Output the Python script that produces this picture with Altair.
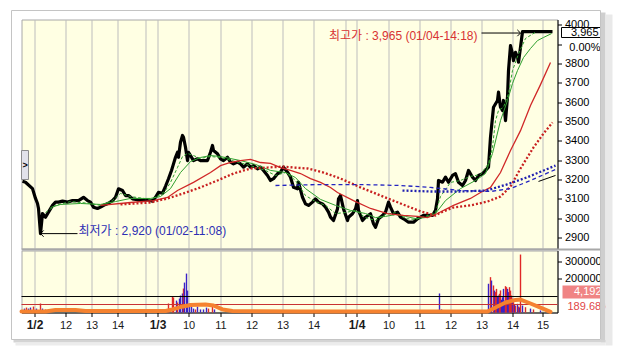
import altair as alt
import pandas as pd

FONT = "Liberation Sans, Arial, Noto Sans CJK KR, sans-serif"

# ---------------- axis definitions (intraday slots along x) ----------------
tick_pos = [13, 44, 70, 96, 124, 136, 167, 199, 230, 261, 292, 324, 335, 367, 398, 429, 460, 491, 521]
tick_labels = ["1/2", "12", "13", "14", "", "1/3", "10", "11", "12", "13", "14", "",
               "1/4", "10", "11", "12", "13", "14", "15"]
date_ticks = [13, 136, 335]

price_ticks = [2900, 3000, 3100, 3200, 3300, 3400, 3500, 3600, 3700, 3800, 3900, 4000]
volume_ticks = [200000, 300000]

# ---------------- price series ----------------
price_bar = [1, 4, 11, 14, 16, 17, 19, 21, 24, 27,
             31, 34, 37, 41, 46, 51, 57, 62, 66, 69,
             72, 76, 79, 84, 87, 91, 94, 97, 101, 104,
             107, 111, 116, 121, 126, 131, 134, 137, 141, 144,
             147, 150, 152, 154, 156, 157, 159, 161, 162, 164,
             166, 167, 169, 172, 176, 179, 182, 186, 189, 191,
             192, 196, 199, 202, 206, 209, 212, 216, 219, 222,
             226, 229, 232, 236, 239, 242, 246, 249, 252, 256,
             259, 262, 266, 269, 272, 276, 277, 281, 284, 287,
             291, 294, 297, 301, 304, 307, 309, 312, 316, 317,
             319, 322, 326, 327, 331, 334, 336, 337, 341, 344,
             349, 352, 354, 357, 361, 364, 367, 369, 372, 376,
             379, 382, 387, 392, 396, 399, 402, 406, 411, 414,
             416, 417, 421, 424, 427, 431, 434, 437, 441, 444,
             447, 451, 454, 457, 461, 464, 467, 469, 471, 472,
             476, 477, 479, 481, 482, 484, 486, 487, 489, 491,
             492, 494, 496, 497, 499, 501, 531]
price_val = [3191, 3186, 3153, 3102, 3076, 3050, 2920, 3024, 3005, 3031,
             3066, 3083, 3083, 3088, 3083, 3091, 3091, 3108, 3091, 3083,
             3057, 3050, 3057, 3071, 3077, 3091, 3108, 3152, 3143, 3117,
             3117, 3100, 3095, 3091, 3095, 3088, 3108, 3134, 3129, 3165,
             3204, 3247, 3281, 3315, 3341, 3315, 3393, 3428, 3419, 3367,
             3298, 3341, 3324, 3298, 3307, 3298, 3298, 3298, 3341, 3376,
             3350, 3333, 3307, 3298, 3315, 3290, 3281, 3290, 3281, 3264,
             3281, 3264, 3272, 3255, 3264, 3247, 3221, 3195, 3204, 3230,
             3238, 3264, 3238, 3212, 3160, 3152, 3186, 3108, 3074, 3066,
             3083, 3100, 3083, 3074, 3057, 3031, 3005, 2988, 3048, 3100,
             3117, 3048, 2988, 3005, 3023, 3048, 3091, 3040, 2988, 3005,
             3023, 2971, 2953, 2997, 3014, 3031, 3083, 3057, 3023, 3031,
             3005, 2997, 2979, 2979, 2997, 3005, 3014, 3014, 3014, 3040,
             3100, 3195, 3186, 3212, 3186, 3221, 3230, 3186, 3169, 3195,
             3247, 3212, 3195, 3221, 3230, 3247, 3264, 3419, 3522, 3574,
             3609, 3652, 3574, 3557, 3609, 3505, 3626, 3764, 3893, 3850,
             3815, 3858, 3833, 3807, 3884, 3965, 3965]

# ---------------- moving averages ----------------
gs_bar = [29, 39, 59, 79, 94, 109, 129, 139, 149, 159, 169, 179, 189, 199, 219, 234, 249, 264, 274, 284,
          299, 314, 329, 344, 354, 364, 374, 384, 394, 404, 414, 424, 439, 454, 464, 471, 479, 486, 491, 496,
          502, 509, 516, 522, 530]
gs_val = [3055, 3071, 3076, 3071, 3086, 3102, 3102, 3112, 3153, 3236, 3293, 3314, 3324, 3319, 3298, 3278, 3247, 3236, 3210, 3153,
          3097, 3066, 3040, 3024, 3003, 3009, 3019, 3009, 2998, 3003, 3024, 3091, 3153, 3195, 3231, 3335, 3505, 3609, 3697, 3764,
          3831, 3878, 3919, 3935, 3955]

gd_bar = [24, 34, 49, 69, 79, 91, 99, 109, 129, 139, 144, 149, 156, 161, 166, 172, 179, 189, 199, 214,
          229, 244, 254, 264, 274, 284, 294, 304, 314, 324, 334, 344, 354, 364, 374, 384, 394, 404, 414, 419,
          429, 439, 449, 459, 467, 471, 474, 477, 482, 487, 491, 497, 504, 514]
gd_val = [3029, 3066, 3086, 3076, 3066, 3091, 3128, 3112, 3097, 3122, 3143, 3185, 3262, 3319, 3335, 3324, 3309, 3319, 3314, 3293,
          3272, 3247, 3221, 3236, 3195, 3117, 3086, 3066, 3024, 3029, 3040, 3003, 2988, 3019, 3029, 2998, 2993, 3009, 3029, 3112,
          3185, 3195, 3216, 3226, 3283, 3367, 3505, 3557, 3574, 3645, 3764, 3850, 3930, 3962]

rs_bar = [79, 109, 132, 146, 156, 172, 189, 199, 209, 219, 229, 239, 249, 259, 269, 279, 289, 299, 309, 316,
          332, 349, 366, 382, 396, 406, 416, 432, 449, 459, 469, 479, 489, 499, 509, 519, 529]
rs_val = [3066, 3081, 3091, 3107, 3143, 3185, 3236, 3272, 3288, 3298, 3304, 3288, 3283, 3262, 3247, 3231, 3205, 3185, 3159, 3133,
          3091, 3050, 3024, 3014, 3009, 3003, 3024, 3066, 3102, 3133, 3159, 3236, 3350, 3453, 3583, 3691, 3805]

rd_bar = [99, 129, 146, 162, 179, 196, 212, 229, 246, 262, 272, 286, 302, 319, 339, 359, 379, 399, 414, 419,
          432, 449, 466, 479, 489, 499, 512, 522, 531]
rd_val = [3071, 3081, 3102, 3128, 3159, 3195, 3231, 3257, 3262, 3267, 3262, 3257, 3236, 3205, 3159, 3117, 3076, 3035, 3014, 3029,
          3055, 3066, 3086, 3112, 3164, 3257, 3366, 3438, 3495]

bd_bar = [254, 299, 339, 379, 409, 439, 469, 489, 509, 534]
bd_val = [3169, 3174, 3174, 3169, 3159, 3143, 3138, 3153, 3195, 3252]

bt_bar = [381, 409, 439, 465, 485, 505, 534]
bt_val = [3143, 3138, 3138, 3143, 3174, 3210, 3272]

bk_bar = [517, 534]
bk_val = [3190, 3221]

# ---------------- volume ----------------
vol_bar = [3, 5, 7, 9, 12, 15, 19, 21, 24, 28,
           147, 151, 152, 155, 156, 158, 159, 161, 162, 163, 165, 166, 168, 170, 172, 174, 176, 179, 182, 185, 187, 191, 193,
           246, 272, 281, 322, 335, 366, 418, 420, 433, 449,
           467, 469, 470, 472, 473, 474, 475, 476, 477, 478, 479, 480, 481, 482, 483, 484, 485, 486, 487, 488, 489, 490,
           491, 492, 493, 494, 496, 497, 498, 499, 501, 504, 509, 512, 519, 526]
vol_val = [23000, 29000, 23000, 29000, 35000, 23000, 53000, 23000, 18000, 12000,
           53000, 94000, 88000, 70000, 59000, 82000, 100000, 112000, 141000, 176000, 229000, 129000, 53000, 35000, 23000, 18000, 35000, 18000, 18000, 29000, 23000, 47000, 18000,
           12000, 12000, 12000, 12000, 12000, 12000, 112000, 18000, 12000, 12000,
           169000, 208000, 188000, 159000, 129000, 120000, 139000, 95000, 100000, 110000, 130000, 75000, 90000, 139000, 70000, 155000, 149000, 139000, 120000, 149000, 129000, 100000,
           81000, 61000, 45000, 40000, 51000, 35000, 30000, 341000, 41000, 31000, 23000, 18000, 12000, 9000]
vol_kind = ["d", "u", "d", "d", "u", "d", "u", "d", "u", "d",
            "u", "u", "u", "d", "u", "d", "d", "d", "u", "d", "d", "d", "d", "d", "d", "u", "d", "d", "d", "d", "u", "u", "d",
            "u", "u", "u", "u", "u", "u", "d", "d", "u", "u",
            "d", "u", "d", "u", "d", "u", "u", "d", "d", "u", "u", "d", "d", "d", "d", "u", "u", "d", "d", "u", "u", "u",
            "d", "u", "d", "u", "d", "u", "d", "u", "d", "u", "d", "u", "d", "u"]

volma_bar = [0, 24, 34, 54, 64, 144, 151, 159, 169, 184, 192, 201, 211, 279, 466, 474, 484, 494, 499, 509, 519, 529]
volma_val = [6000, 6000, 15000, 15000, 9000, 9000, 18000, 32000, 44000, 47000, 41000, 18000, 9000, 6000, 6000, 29000, 59000, 74000, 76000, 53000, 29000, 4000]

vol_level_black = [94000]
vol_level_red = [47000]

# ---------------- scales & axes ----------------
X_SCALE = alt.Scale(domain=[0, 536], nice=False, zero=False)
P_SCALE = alt.Scale(domain=[2843, 4028], nice=False, zero=False)
V_SCALE = alt.Scale(domain=[0, 364706], nice=False, zero=False)

lbl_expr = ("[" + ",".join("'%s'" % t for t in tick_labels) + "][indexof(["
            + ",".join(str(p) for p in tick_pos) + "], datum.value)]")
date_test = "indexof([" + ",".join(str(p) for p in date_ticks) + "], datum.value) >= 0"

GRID = "#BDBDBD"
px_axis = alt.Axis(values=tick_pos, labels=False, ticks=False, domain=False, grid=True,
                   gridColor=GRID, gridWidth=1, title=None)
vx_axis = alt.Axis(values=tick_pos, labelExpr=lbl_expr, grid=True, gridColor=GRID, gridWidth=1,
                   ticks=True, tickColor="black", tickSize=4, domain=True, domainColor="black",
                   labelColor="#1a1a1a", labelFont=FONT,
                   labelFontSize={"condition": {"test": date_test, "value": 12}, "value": 11},
                   labelFontWeight={"condition": {"test": date_test, "value": "bold"}, "value": "normal"},
                   labelPadding=3, labelFlush=False, labelOverlap=False, title=None)
py_axis = alt.Axis(orient="right", values=price_ticks, format="d",
                   labelExpr="datum.value == 3900 ? '' : datum.label", grid=False,
                   tickColor="black", tickSize=4, domain=True, domainColor="black",
                   labelColor="black", labelFont=FONT, labelFontSize=11, labelPadding=3,
                   labelOverlap=False, title=None)
vy_axis = alt.Axis(orient="right", values=volume_ticks, format="d", grid=False,
                   tickColor="black", tickSize=4, domain=True, domainColor="black",
                   labelColor="black", labelFont=FONT, labelFontSize=11, labelPadding=3,
                   labelOverlap=False, title=None)


def line_df(xs, ys):
    return pd.DataFrame({"bar": xs, "v": ys})


def pxe():
    return alt.X("bar:Q", scale=X_SCALE, axis=px_axis)


def pye():
    return alt.Y("v:Q", scale=P_SCALE, axis=py_axis)


def pxd(v):
    return alt.X(datum=v, type="quantitative", scale=X_SCALE, axis=px_axis)


def pyd(v):
    return alt.Y(datum=v, type="quantitative", scale=P_SCALE, axis=py_axis)


def vxe():
    return alt.X("bar:Q", scale=X_SCALE, axis=vx_axis)


def vye():
    return alt.Y("v:Q", scale=V_SCALE, axis=vy_axis)


def ma(xs, ys, color, width, dash=None):
    kw = dict(color=color, strokeWidth=width)
    if dash:
        kw["strokeDash"] = dash
    return alt.Chart(line_df(xs, ys)).mark_line(**kw).encode(x=pxe(), y=pye())


one = pd.DataFrame({"k": [0]})

price_line = alt.Chart(line_df(price_bar, price_val)).mark_line(
    color="black", strokeWidth=3.2, strokeJoin="round").encode(x=pxe(), y=pye())

layers = [
    price_line,
    ma(gs_bar, gs_val, "#2FA02F", 1),
    ma(gd_bar, gd_val, "#2FA02F", 1, [3, 2]),
    ma(rs_bar, rs_val, "#D02828", 1.3),
    ma(rd_bar, rd_val, "#C82020", 2.3, [2, 2]),
    ma(bd_bar, bd_val, "#2424C0", 1.3, [4, 3]),
    ma(bt_bar, bt_val, "#2020B0", 2.3, [2, 2]),
    ma(bk_bar, bk_val, "black", 1),
    # high annotation
    alt.Chart(one).mark_rule(color="black", strokeWidth=1).encode(
        x=pxd(460), x2=alt.X2(datum=499), y=pyd(3958)),
    alt.Chart(one).mark_point(shape="M-1,-1L0,0L-1,1", filled=False, size=40, color="black",
                              strokeWidth=1, opacity=1).encode(x=pxd(499), y=pyd(3958)),
    alt.Chart(one).mark_text(text="최고가 : 3,965 (01/04-14:18)", align="right", baseline="middle",
                             font=FONT, fontSize=12, color="#D83232").encode(x=pxd(456), y=pyd(3945)),
    # low annotation
    alt.Chart(one).mark_rule(color="black", strokeWidth=1).encode(
        x=pxd(19), x2=alt.X2(datum=56), y=pyd(2920)),
    alt.Chart(one).mark_point(shape="M1,-1L0,0L1,1", filled=False, size=40, color="black",
                              strokeWidth=1, opacity=1).encode(x=pxd(19), y=pyd(2920)),
    alt.Chart(one).mark_text(text="최저가 : 2,920 (01/02-11:08)", align="left", baseline="middle",
                             font=FONT, fontSize=12, color="#2E2EB4").encode(x=pxd(57), y=pyd(2936)),
    # current price box on the axis
    alt.Chart(one).mark_rect(fill="white", stroke="black", strokeWidth=1).encode(
        x=alt.value(540), x2=alt.value(579), y=alt.value(8), y2=alt.value(18)),
    alt.Chart(one).mark_text(text="3,965", align="right", baseline="middle", font=FONT, fontSize=11,
                             color="black").encode(x=alt.value(577), y=alt.value(13)),
    alt.Chart(one).mark_text(text="0.00%", align="right", baseline="middle", font=FONT, fontSize=11,
                             color="black").encode(x=alt.value(579), y=alt.value(28)),
    # side tab
    alt.Chart(one).mark_rect(fill="#E2E2EA", stroke="#8C8C8C", strokeWidth=1).encode(
        x=alt.value(0), x2=alt.value(7), y=alt.value(131), y2=alt.value(160)),
    alt.Chart(one).mark_text(text=">", align="center", baseline="middle", font=FONT, fontSize=9,
                             fontWeight="bold", color="black").encode(x=alt.value(3.5), y=alt.value(145)),
]
price_chart = alt.layer(*layers).properties(width=536, height=229)

vol_df = pd.DataFrame({"bar": vol_bar, "v": vol_val, "kind": vol_kind})
vol_layers = [
    alt.Chart(vol_df).mark_rule(strokeWidth=1.4).encode(
        x=vxe(), y=vye(), y2=alt.Y2(datum=0),
        color=alt.Color("kind:N", scale=alt.Scale(domain=["u", "d"], range=["#E02828", "#3A22C8"]),
                        legend=None)),
    alt.Chart(line_df([0], vol_level_black)).mark_rule(color="black", strokeWidth=1).encode(y=vye()),
    alt.Chart(line_df([0], vol_level_red)).mark_rule(color="#C83232", strokeWidth=1).encode(y=vye()),
    alt.Chart(line_df(volma_bar, volma_val)).mark_line(
        color="#F5822F", strokeWidth=4, strokeJoin="round", strokeCap="round").encode(x=vxe(), y=vye()),
    # pane separator
    alt.Chart(one).mark_rule(color="#A8A8A8", strokeWidth=2).encode(
        x=alt.value(0), x2=alt.value(579), y=alt.value(-1)),
    # axis-side labels
    alt.Chart(one).mark_rect(fill="#F08484").encode(
        x=alt.value(541), x2=alt.value(579), y=alt.value(35), y2=alt.value(48)),
    alt.Chart(one).mark_text(text="4,192", align="right", baseline="middle", font=FONT, fontSize=11,
                             color="white").encode(x=alt.value(580), y=alt.value(41.5)),
    alt.Chart(one).mark_text(text="189.68%", align="left", baseline="middle", font=FONT, fontSize=11,
                             color="#E04646").encode(x=alt.value(546), y=alt.value(56.5)),
    # outer frame and shadow
    alt.Chart(one).mark_rect(fill="white", fillOpacity=0, stroke="#C4C4C4", strokeWidth=1).encode(
        x=alt.value(-10), x2=alt.value(579), y=alt.value(-240), y2=alt.value(89)),
    alt.Chart(one).mark_rect(fill="#CFCFCF").encode(
        x=alt.value(579.5), x2=alt.value(584), y=alt.value(-238), y2=alt.value(92)),
    alt.Chart(one).mark_rect(fill="#E9E9E9").encode(
        x=alt.value(584), x2=alt.value(591), y=alt.value(-236), y2=alt.value(95)),
    alt.Chart(one).mark_rect(fill="#D4D4D4").encode(
        x=alt.value(-8), x2=alt.value(584), y=alt.value(89.5), y2=alt.value(92)),
    alt.Chart(one).mark_rect(fill="#ECECEC").encode(
        x=alt.value(-6), x2=alt.value(584), y=alt.value(92), y2=alt.value(95)),
]
volume_chart = alt.layer(*vol_layers).properties(width=536, height=62)

chart = alt.vconcat(price_chart, volume_chart, spacing=2, bounds="flush").properties(
    padding={"left": 10.5, "top": 9.5, "right": 0, "bottom": 0},
    background="white",
).configure_view(fill="#FFFFE3", stroke="#A8A8A8", strokeWidth=1)

chart.save("out.html", embed_options={"renderer": "svg", "actions": False})
